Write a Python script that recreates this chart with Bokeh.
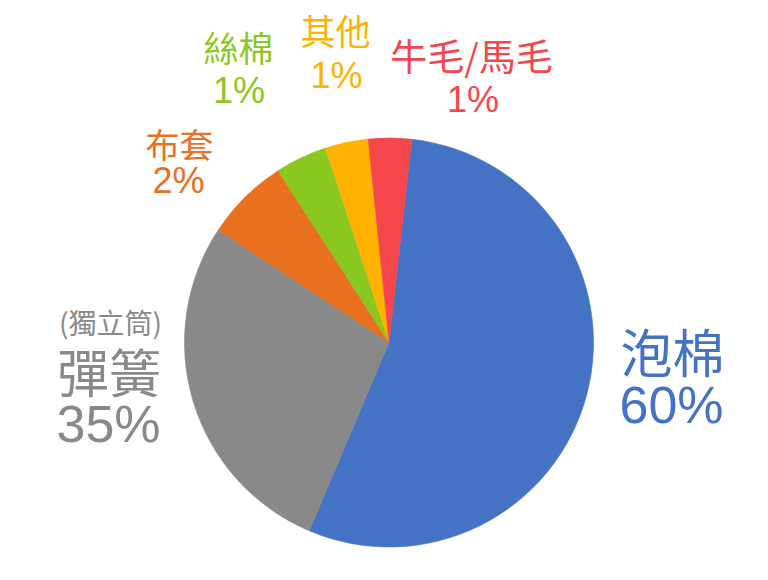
import math
from bokeh.plotting import figure
from bokeh.models import ColumnDataSource, Range1d
from bokeh.core.properties import value
from bokeh.embed import file_html
from bokeh.resources import INLINE

# ---- data ----
categories = ["泡棉", "彈簧", "布套", "絲棉", "其他", "牛毛/馬毛"]
shares = [54.6, 27.9, 6.6, 4.1, 3.4, 3.4]          # visual slice sizes (%)
label_pcts = ["60%", "35%", "2%", "1%", "1%", "1%"]  # printed labels
colors = ["#4472C4", "#898989", "#E8701E", "#8AC81F", "#FFB300", "#F5474B"]
start_offset_deg = 6.4  # first slice starts this far clockwise from 12 o'clock

W, H = 752, 564
p = figure(width=W, height=H, output_backend="svg", toolbar_location=None,
           x_range=Range1d(0, W), y_range=Range1d(0, H),
           min_border=0, outline_line_color=None)
p.axis.visible = False
p.grid.visible = False
p.background_fill_color = "white"
p.border_fill_color = "white"

def px(x):
    return x
def py(y):
    return H - y

cx, cy, r = px(388.5), py(342), 204.5

total = sum(shares)
starts, ends = [], []
cum = start_offset_deg / 360.0
for s in shares:
    frac = s / total
    starts.append(math.radians(90 - cum * 360))
    ends.append(math.radians(90 - (cum + frac) * 360))
    cum += frac

src = ColumnDataSource(dict(start=starts, end=ends, color=colors, cat=categories))
p.wedge(x=cx, y=cy, radius=r, radius_units="screen", start_angle="start", end_angle="end",
        direction="clock", fill_color="color", line_color="color", line_width=0.6, source=src)

cjk = value("Noto Sans CJK TC")
lat = value("Liberation Sans")

# label layout: (center x, center y, font size px) in picture pixels
name_pos = [(672, 350, 52), (108.5, 370, 52), (179, 143, 34), (238, 46, 35), (335, 29, 35), (471, 54, 37)]
pct_pos = [(671, 404, 52), (108, 423, 52), (178, 180, 36), (238.5, 90, 36), (336, 75, 36), (472.5, 99, 36)]

for i, cat in enumerate(categories):
    nx, ny, ns = name_pos[i]
    p.text(x=[px(nx)], y=[py(ny)], text=[cat], text_color=colors[i], text_font=cjk,
           text_font_size=f"{ns}px", text_align="center", text_baseline="middle")
    qx, qy, qs = pct_pos[i]
    p.text(x=[px(qx)], y=[py(qy)], text=[label_pcts[i]], text_color=colors[i], text_font=lat,
           text_font_size=f"{qs}px", text_align="center", text_baseline="middle")

p.text(x=[px(110)], y=[py(321)], text=["(獨立筒)"], text_color=colors[1], text_font=cjk,
       text_font_size="28px", text_align="center", text_baseline="middle")

open("out.html", "w").write(file_html(p, INLINE))
